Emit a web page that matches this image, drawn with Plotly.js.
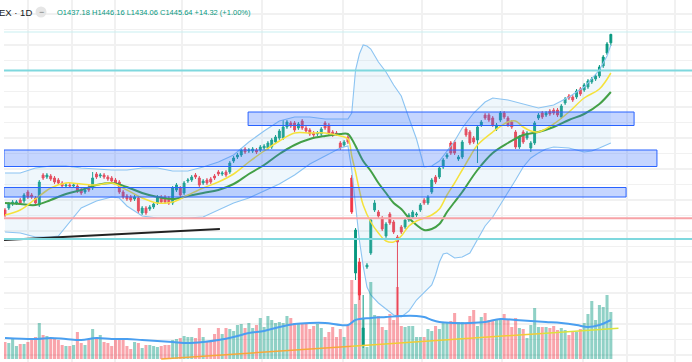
<!DOCTYPE html>
<html><head><meta charset="utf-8">
<script src="https://cdn.plot.ly/plotly-3.0.1.min.js"></script>
<style>html,body{margin:0;padding:0;background:#fff}#c{width:692px;height:362px}</style>
</head><body><div id="c"></div>
<script>
// ---- candle data (index = trading day) ----
const opens = [1270,1272,1276,1277,1280,1279,1288,1285,1282,1275, 1305,1303,1304,1302,1300,1297,1294,1295,1294,1294,
 1290,1288,1293,1292,1306,1304,1305,1303,1302,1300, 1298,1288,1284,1283,1281,1282,1267,1272,1271,1273,
 1277,1283,1283,1282,1277,1290,1292,1287,1299,1300, 1305,1302,1297,1300,1301,1304,1308,1306,1308,1308,
 1319,1323,1325,1331,1329,1329,1330,1330,1332,1332, 1333,1338,1342,1342,1353,1357,1357,1352,1359,1352,
 1350,1347,1346,1346,1357,1355,1348,1347,1337,1335, 1343,1302,1207,1218,1135,1213,1227,1270,1268,1262,
 1244,1266,1258,1243,1253,1253,1260,1263,1265,1270, 1280,1277,1288,1303,1303,1313,1323,1337,1338,1321,
 1323,1351,1348,1342,1340,1355,1365,1365,1362,1351, 1360,1367,1362,1358,1348,1333,1348,1342,1332,1337,
 1362,1367,1365,1369,1370,1370,1363,1377,1384,1383, 1383,1391,1390,1393,1398,1401,1404,1414,1427,1437.18];
const closes = [1265,1276,1278,1278,1277,1285,1283,1283,1277,1298, 1302,1305,1301,1298,1297,1294,1295,1294,1295,1289,
 1287,1290,1290,1302,1303,1305,1303,1301,1299,1297, 1288,1283,1281,1280,1283,1269,1272,1267,1273,1276,
 1283,1278,1278,1277,1292,1295,1285,1297,1300,1303, 1303,1295,1299,1297,1298,1302,1306,1307,1305,1317,
 1322,1325,1330,1328,1330,1331,1328,1333,1334,1337, 1340,1343,1349,1353,1358,1354,1350,1356,1352,1349,
 1346,1345,1347,1351,1352,1347,1345,1346,1332,1338, 1338,1268,1250,1185,1152,1215,1260,1277,1264,1251,
 1256,1257,1248,1238,1248,1260,1265,1268,1266,1275, 1277,1283,1300,1298,1312,1320,1325,1327,1327,1323,
 1338,1345,1337,1338,1353,1358,1362,1360,1355,1355, 1367,1363,1355,1353,1333,1343,1338,1347,1337,1357,
 1365,1363,1367,1366,1367,1365,1374,1381,1382,1380, 1389,1386,1395,1399,1401,1404,1413,1423,1436,1445.64];
const highs = [1272,1278,1280,1280,1282,1287,1290,1287,1284,1300, 1307,1307,1306,1304,1302,1299,1297,1297,1297,1296,
 1292,1292,1295,1308,1308,1307,1307,1305,1304,1302, 1300,1290,1286,1285,1285,1284,1274,1274,1275,1278,
 1285,1285,1285,1284,1294,1297,1294,1299,1302,1305, 1307,1304,1301,1302,1303,1306,1310,1309,1310,1319,
 1324,1327,1332,1333,1332,1333,1332,1335,1336,1339, 1342,1345,1351,1360,1360,1359,1359,1358,1361,1354,
 1352,1349,1349,1353,1359,1357,1350,1349,1339,1340, 1345,1305,1252,1222,1185,1217,1262,1280,1270,1264,
 1258,1268,1260,1245,1255,1262,1267,1270,1268,1277, 1282,1285,1302,1305,1314,1322,1327,1339,1340,1325,
 1340,1353,1350,1344,1355,1360,1367,1367,1364,1357, 1369,1369,1364,1360,1350,1345,1350,1349,1339,1359,
 1367,1369,1369,1371,1372,1372,1376,1383,1386,1385, 1391,1393,1397,1401,1403,1406,1415,1425,1438,1446.16];
const lows = [1263,1270,1274,1275,1275,1277,1281,1281,1275,1273, 1300,1301,1299,1296,1295,1292,1292,1292,1292,1287,
 1285,1286,1288,1290,1301,1302,1301,1299,1297,1295, 1286,1281,1279,1278,1279,1267,1265,1265,1269,1271,
 1275,1276,1276,1275,1275,1288,1283,1285,1297,1298, 1301,1293,1295,1295,1296,1300,1304,1304,1303,1306,
 1317,1321,1323,1326,1327,1327,1326,1328,1330,1330, 1331,1336,1340,1340,1351,1352,1348,1350,1350,1347,
 1344,1343,1344,1344,1350,1345,1343,1344,1330,1333, 1336,1266,1200,1180,1132,1211,1225,1268,1262,1249,
 1242,1255,1246,1163,1246,1251,1258,1261,1263,1268, 1275,1275,1286,1296,1301,1311,1321,1325,1325,1319,
 1321,1343,1335,1336,1317,1353,1360,1358,1353,1349, 1358,1361,1353,1351,1331,1331,1336,1340,1328,1335,
 1360,1361,1363,1364,1365,1363,1361,1375,1380,1378, 1381,1384,1388,1391,1396,1399,1402,1412,1425,1434.06];
const volumes = [17,16,21,13,15,15,17,19,22,36, 24,23,21,20,19,14,13,13,14,27, 16,14,20,30,21,24,17,16,13,21,
 20,20,13,10,17,16,11,14,14,13, 12,13,14,14,19,20,21,23,22,22, 21,31,22,17,17,25,31,25,31,30,
 28,34,35,31,36,31,34,41,32,43, 39,36,37,36,43,41,36,35,35,35, 30,33,35,31,22,27,32,22,30,22,
 34,79,55,94,40,12,77,44,43,32, 29,45,39,72,33,32,33,33,22,22, 22,30,28,33,30,37,37,38,46,37,
 37,36,43,49,33,42,46,39,39,40, 39,45,40,32,41,31,30,21,34,51, 32,32,32,31,33,29,31,29,24,28,
 27,30,36,45,58,39,54,52,64,47];
const days = opens.map((_, i) => i);

// ---- indicator lines ----
const fastX = [0,4,8,12,16,20,24,28,32,36,40,44,48,52,56,60,64,68,72,76,80,84,88,90,91,92,93,94,96,98,100,102,104,106,108,110,112,114,116,118,120,122,124,128,132,134,136,138,140,144,148,152,156,159];
const fastY = [1265,1270,1281,1292,1297,1296,1295,1297,1290,1282,1277,1278,1285,1292,1298,1306,1318,1329,1339,1347,1347,1347,1344,1341,1324,1308,1290,1275,1258,1247,1239,1238,1244,1254,1259,1262,1265,1271,1285,1297,1310,1323,1335,1348,1358,1359,1353,1349,1348,1356,1368,1382,1391,1407];
const slowX = [0,4,8,12,16,20,24,28,32,36,40,44,48,52,56,60,64,68,72,76,80,84,88,90,91,92,94,96,98,100,102,104,106,108,110,112,114,116,118,120,124,128,132,136,140,144,148,152,156,159];
const slowY = [1277,1276,1275,1280,1286,1290,1295,1297,1293,1287,1283,1281,1284,1287,1290,1296,1306,1315,1326,1335,1341,1344,1346,1346,1341,1334,1319,1309,1297,1287,1277,1271,1262,1255,1250,1251,1256,1268,1278,1288,1310,1327,1337,1345,1348,1353,1360,1366,1376,1388];
const upX = [0,4,8,12,16,20,24,28,32,36,40,44,48,52,56,60,64,68,72,76,80,84,88,90,91,92,93,94,95,96,98,100,102,104,106,108,110,112,114,116,118,120,123,126,128,132,136,140,144,148,152,156,158,159];
const upY = [1307,1307,1312,1314,1314,1312,1311,1310,1310,1312,1312,1309,1309,1313,1318,1325,1338,1349,1359,1363,1363,1361,1361,1361,1367,1410,1426,1435,1434,1431,1418,1408,1395,1384,1362,1341,1313,1314,1319,1329,1339,1352,1367,1378,1382,1380,1376,1372,1375,1383,1393,1410,1424,1435];
const lowX = [0,4,8,12,14,16,18,20,24,28,30,32,36,40,44,48,52,56,60,64,68,72,76,80,84,88,90,91,92,93,94,95,96,98,100,102,104,106,108,110,112,113,114,115,116,118,120,122,124,126,128,130,132,134,136,138,140,142,144,148,152,154,156,159];
const lowY = [1248,1247,1243,1243,1244,1253,1263,1272,1279,1283,1282,1274,1264,1262,1262,1262,1263,1270,1277,1282,1289,1296,1305,1316,1324,1332,1334,1310,1275,1240,1214,1193,1185,1177,1171,1165,1163,1169,1180,1188,1195,1205,1218,1226,1227,1222,1223,1227,1240,1254,1263,1275,1288,1300,1313,1322,1327,1331,1333,1332,1328,1329,1332,1337];
const volMaX = [0,8,12,16,20,24,28,32,36,40,44,48,52,56,60,64,68,72,76,80,84,88,90,92,96,100,104,108,110,112,114,118,122,126,130,134,138,142,146,150,153,156,159];
const volMaY = [21,20,21,20,19,21,20,20,19,18,17,16,17,19,22,26,28,32,35,36,36,34,34,39,41,42,43,43,42,39,37,36,36,37,40,39,38,37,36,34,32,34,39];
const volLongX = [41,66,91,116,141,161];
const volLongY = [0,6.5,12.8,19.2,25.6,30.7];

// ---- levels ----
const resistanceTop = 1448, resistanceHigh = 1409.5, supportRed = 1261.7, supportLow = 1241;
const zones = [[63.8,165.1,1354.5,1368],[null,171.1,1313.5,1330],[null,163,1283,1292.5]];
const trendX = [-0.26, 56.4], trendY = [1240, 1251];
const gridX = [6.0,17.6,28.9,46.5,67.5,88.7,109.5,130.4,151.7,163.3,175.9];

const xr = [-0.262, 180.3];
const inc = '#089981', dec = '#f23645';
const volColors = days.map(i => closes[i] >= opens[i] ? 'rgba(8,153,129,0.45)' : 'rgba(242,54,69,0.45)');

const traces = [
 {x: lowX, y: lowY, type:'scatter', mode:'lines', line:{color:'#8cc4f2', width:1.1}, hoverinfo:'skip'},
 {x: upX, y: upY, type:'scatter', mode:'lines', line:{color:'#8cc4f2', width:1.1}, fill:'tonexty', fillcolor:'rgba(160,205,238,0.17)', hoverinfo:'skip'},
 {x: days, y: volumes, type:'bar', yaxis:'y2', marker:{color: volColors, line:{width:0}}, width:0.8, hoverinfo:'skip'},
 {x: volLongX.slice(0,3), y: volLongY.slice(0,3), type:'scatter', mode:'lines', yaxis:'y2', line:{color:'#f7a83a', width:1.5}, hoverinfo:'skip'},
 {x: volLongX.slice(2,5), y: volLongY.slice(2,5), type:'scatter', mode:'lines', yaxis:'y2', line:{color:'#f1cc35', width:1.5}, hoverinfo:'skip'},
 {x: volLongX.slice(4), y: volLongY.slice(4), type:'scatter', mode:'lines', yaxis:'y2', line:{color:'#dbe23c', width:1.5}, hoverinfo:'skip'},
 {x: volMaX, y: volMaY, type:'scatter', mode:'lines', yaxis:'y2', line:{color:'#4a9ff0', width:2, shape:'spline'}, hoverinfo:'skip'},
 {x: days, open: opens, high: highs, low: lows, close: closes, type:'candlestick',
  increasing:{line:{color:inc, width:1}, fillcolor:inc}, decreasing:{line:{color:dec, width:1}, fillcolor:dec},
  whiskerwidth:0, hoverinfo:'skip'},
 {x: slowX, y: slowY, type:'scatter', mode:'lines', line:{color:'#43a047', width:2, shape:'spline'}, hoverinfo:'skip'},
 {x: fastX, y: fastY, type:'scatter', mode:'lines', line:{color:'#f5e23c', width:1.5, shape:'spline'}, hoverinfo:'skip'},
 {x: trendX, y: trendY, type:'scatter', mode:'lines', line:{color:'#222222', width:2}, hoverinfo:'skip'}
];

const shapes = [
 {type:'line', xref:'paper', x0:0, x1:1, yref:'y', y0:resistanceTop, y1:resistanceTop, line:{color:'#c9eff1', width:1}},
 {type:'line', xref:'paper', x0:0, x1:1, yref:'y', y0:resistanceHigh, y1:resistanceHigh, line:{color:'#7fd8de', width:2}},
 {type:'line', xref:'paper', x0:0, x1:1, yref:'y', y0:supportRed, y1:supportRed, line:{color:'#f7a3a7', width:2}},
 {type:'line', xref:'paper', x0:0, x1:1, yref:'y', y0:supportLow, y1:supportLow, line:{color:'#7fd8de', width:2}}
];
zones.forEach(z => shapes.push({type:'rect', xref:'x', x0: z[0] === null ? xr[0] : z[0], x1:z[1], yref:'y', y0:z[2], y1:z[3],
  fillcolor:'rgba(41,98,255,0.27)', line:{color:'#2962ff', width:1}, layer:'above'}));
shapes.push({type:'circle', xref:'paper', yref:'paper', xsizemode:'pixel', ysizemode:'pixel',
  xanchor:(41-4)/688, yanchor:1-12/362, x0:-5.5, x1:5.5, y0:-5.5, y1:5.5, fillcolor:'#e6e6e6', line:{width:0}});

const annotations = [
 {xref:'paper', yref:'paper', x:(-3-4)/688, y:1-12/362, xanchor:'left', yanchor:'middle', showarrow:false,
  text:'EX · 1D', font:{family:'Liberation Sans, Arial, sans-serif', size:9.5, color:'#131722'}},
 {xref:'paper', yref:'paper', x:(41-4)/688, y:1-12/362, xanchor:'center', yanchor:'middle', showarrow:false,
  text:'−', font:{family:'Liberation Sans, Arial, sans-serif', size:9, color:'#787878'}},
 {xref:'paper', yref:'paper', x:(55-4)/688, y:1-12/362, xanchor:'left', yanchor:'middle', showarrow:false,
  text:'O1437.18 H1446.16 L1434.06 C1445.64 +14.32 (+1.00%)', font:{family:'Liberation Sans, Arial, sans-serif', size:7.5, color:'#089981'}}
];

const layout = {
 width:692, height:362, margin:{l:4, r:0, t:0, b:0}, paper_bgcolor:'#ffffff', plot_bgcolor:'#ffffff',
 showlegend:false, barmode:'overlay', dragmode:false,
 xaxis:{range:xr, tickvals:gridX, showticklabels:false, ticks:'', showgrid:true, gridcolor:'#f1f1f1', gridwidth:1.5,
        zeroline:false, showline:false, rangeslider:{visible:false}, fixedrange:true},
 yaxis:{range:[1118,1480], tickmode:'linear', tick0:1373, dtick:15.5, showticklabels:false, ticks:'', showgrid:true,
        gridcolor:'#f1f1f1', gridwidth:1.5, zeroline:false, showline:false, fixedrange:true},
 yaxis2:{overlaying:'y', range:[-3,359], visible:false, fixedrange:true},
 shapes:shapes, annotations:annotations
};
Plotly.newPlot('c', traces, layout, {staticPlot:true, displayModeBar:false});
</script></body></html>
